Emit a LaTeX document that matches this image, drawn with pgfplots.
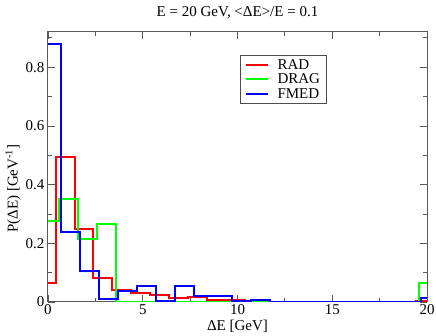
\documentclass[border=0pt]{standalone}
\usepackage{fontspec}
\setmainfont{Liberation Serif}
\usepackage{pgfplots}
\pgfplotsset{compat=1.18}

\definecolor{radc}{RGB}{255,0,0}
\definecolor{dragc}{RGB}{0,255,0}
\definecolor{fmedc}{RGB}{0,0,255}

\begin{document}
\begin{tikzpicture}
\begin{axis}[
    scale only axis,
    width=379pt, height=270pt,
    xmin=0, xmax=20, ymin=0, ymax=0.92,
    xtick={0,5,10,15,20},
    ytick={0,0.2,0.4,0.6,0.8},
    minor xtick={2.5,7.5,12.5,17.5},
    minor ytick={0.1,0.3,0.5,0.7,0.9},
    yticklabel style={/pgf/number format/fixed, /pgf/number format/precision=1},
    /pgf/number format/assume math mode=true,
    tick align=inside,
    major tick length=7pt,
    minor tick length=4pt,
    every tick/.style={black!65, line width=0.8pt},
    axis line style={black!65, line width=1pt},
    ticklabel style={font=\fontsize{15}{16}\selectfont},
    xticklabel style={yshift=1pt},
    label style={font=\fontsize{15}{16}\selectfont},
    title style={font=\fontsize{15}{16}\selectfont, yshift=4pt},
    title={E = 20 GeV, <ΔE>/E = 0.1},
    xlabel={ΔE [GeV]},
    ylabel={P(ΔE) [GeV\textsuperscript{-1}]},
    xlabel style={yshift=1pt},
    ylabel style={at={(ticklabel cs:0.42)}, yshift=-2pt},
    legend style={at={(rel axis cs:0.507,0.915)}, anchor=north west,
        draw=black!70, line width=0.8pt,
        font=\fontsize{15}{13}\selectfont,
        row sep=-1pt, column sep=7pt, inner xsep=4pt, inner ysep=2pt},
    legend cell align=left,
    legend image code/.code={\draw[#1, line width=2pt] (0pt,0pt) -- (22pt,0pt);},
]
\addplot[const plot, color=radc, line width=2pt] coordinates {
 (0,0.066) (0.4,0.493) (1.4,0.25) (2.4,0.082) (3.4,0.042) (4.4,0.032)
 (5.4,0.024) (6.4,0.015) (7.4,0.018) (8.4,0.008) (9.4,0.008) (10.4,0)
 (19.4,0.004) (20,0.004)};
\addlegendentry{RAD}
\addplot[const plot, color=dragc, line width=2pt] coordinates {
 (0,0.276) (0.6,0.35) (1.6,0.216) (2.6,0.266) (3.6,0)
 (19.6,0.065) (20,0.065)};
\addlegendentry{DRAG}
\addplot[const plot, color=fmedc, line width=2pt] coordinates {
 (0,0.88) (0.7,0.237) (1.7,0.106) (2.7,0.01) (3.7,0.037) (4.7,0.054)
 (5.7,0.004) (6.7,0.054) (7.7,0.02) (8.7,0.02) (9.7,0.002) (10.7,0.008)
 (11.7,0) (19.7,0.013) (20,0.013)};
\addlegendentry{FMED}
\end{axis}
\pgfresetboundingbox
\useasboundingbox ([shift={(-48pt,-34pt)}]current axis.south west) rectangle ([shift={(9pt,32pt)}]current axis.north east);
\end{tikzpicture}
\end{document}
